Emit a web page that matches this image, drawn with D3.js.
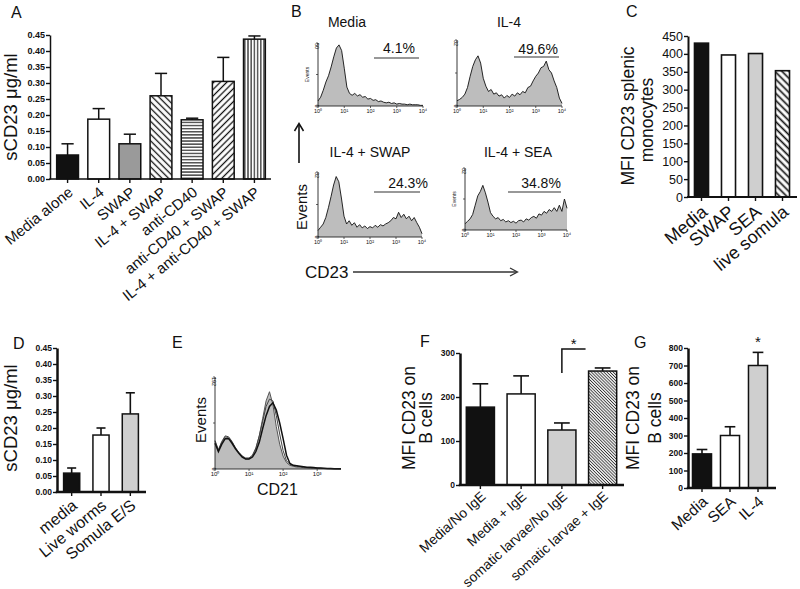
<!DOCTYPE html>
<html><head><meta charset="utf-8">
<script src="https://cdn.jsdelivr.net/npm/d3@7"></script>
<style>
body{margin:0;background:#fff}
svg{display:block}
text{font-family:"Liberation Sans",Arial,Helvetica,sans-serif;fill:#111}
</style>
</head><body>
<script>
// ---------- DATA ----------
// Panel A
const aCats = ["Media alone","IL-4","SWAP","IL-4 + SWAP","anti-CD40","anti-CD40 + SWAP","IL-4 + anti-CD40 + SWAP"];
const aMeans = [0.075,0.187,0.11,0.26,0.185,0.305,0.437];
const aSem   = [0.035,0.033,0.03,0.07,0.005,0.075,0.01];
const aTicks = [0,0.05,0.10,0.15,0.20,0.25,0.30,0.35,0.40,0.45];
// Panel C
const cCats = ["Media","SWAP","SEA","live somula"];
const cMeans = [430,397,401,353];
const cTicks = [0,50,100,150,200,250,300,350,400,450];
// Panel D
const dCats = ["media","Live worms","Somula E/S"];
const dMeans = [0.059,0.178,0.244];
const dSem   = [0.016,0.022,0.066];
const dTicks = [0,0.05,0.10,0.15,0.20,0.25,0.30,0.35,0.40,0.45];
// Panel F
const fCats = ["Media/No IgE","Media + IgE","somatic larvae/No IgE","somatic larvae + IgE"];
const fMeans = [177,207,125,259];
const fSem   = [53,41,16,7];
const fTicks = [0,100,200,300];
// Panel G
const gCats = ["Media","SEA","IL-4"];
const gMeans = [195,300,700];
const gSem   = [25,50,75];
const gTicks = [0,100,200,300,400,500,600,700,800];
// Panel B histograms (log10 fluorescence bins, fraction of axis max)
const bLogs = [0,0.1,0.2,0.3,0.4,0.5,0.6,0.7,0.8,0.9,1.0,1.1,1.2,1.3,1.4,1.5,1.6,1.7,1.8,1.9,2.0,2.1,2.2,2.3,2.4,2.5,2.6,2.7,2.8,2.9,3.0,3.1,3.2,3.3,3.4,3.5,3.6,3.7,3.8,3.9,4.0];
const bTickLabels = ["10⁰","10¹","10²","10³","10⁴"];
const bMedia = [0.08,0.14,0.25,0.38,0.48,0.62,0.78,0.92,0.97,0.88, 0.60,0.30,0.20,0.17,0.20,0.16,0.18,0.14,0.15,0.11, 0.12,0.09,0.10,0.07,0.08,0.06,0.05,0.06,0.04,0.05, 0.03,0.04,0.03,0.03,0.02,0.03,0.02,0.02,0.02,0.01, 0.01];
const bIL4 = [0.08,0.10,0.13,0.18,0.28,0.45,0.60,0.70,0.76,0.65, 0.42,0.30,0.22,0.25,0.18,0.20,0.15,0.17,0.12,0.16, 0.13,0.18,0.15,0.20,0.17,0.22,0.20,0.28,0.30,0.38, 0.45,0.50,0.58,0.60,0.68,0.55,0.50,0.38,0.28,0.12, 0.04];
const bSWAP = [0.10,0.15,0.20,0.30,0.45,0.62,0.80,0.93,0.85,0.60, 0.32,0.20,0.25,0.18,0.22,0.15,0.19,0.14,0.17,0.13, 0.16,0.14,0.18,0.15,0.19,0.17,0.20,0.22,0.25,0.30, 0.28,0.38,0.30,0.35,0.28,0.32,0.25,0.30,0.22,0.15, 0.05];
const bSEA = [0.10,0.14,0.18,0.25,0.40,0.55,0.62,0.72,0.60,0.45, 0.28,0.22,0.18,0.20,0.15,0.17,0.13,0.15,0.12,0.14, 0.11,0.15,0.16,0.13,0.18,0.16,0.20,0.22,0.19,0.26, 0.24,0.30,0.27,0.33,0.30,0.36,0.30,0.40,0.30,0.50, 0.35];
// Panel E histogram (CD21)
const eLogs = [0,0.1,0.2,0.3,0.4,0.5,0.6,0.7,0.8,0.9,1.0,1.1,1.2,1.3,1.4,1.5,1.6,1.7,1.8,1.9,2.0,2.1,2.2,2.3,2.4,2.5,2.6,2.7,2.8,2.9,3.0,3.1,3.2,3.3,3.4,3.5,3.6,3.7];
const eTickLabels = ["10⁰","10¹","10²","10³"];
const eFill  = [0.30,0.20,0.29,0.35,0.34,0.29,0.23,0.18,0.14,0.11, 0.11,0.14,0.22,0.36,0.55,0.74,0.84,0.70,0.46,0.27, 0.14,0.07,0.04,0.03,0.02,0.02,0.015,0.012,0.01,0.01, 0.008,0.006,0.005,0.004,0.003,0.003,0.002,0.002];
const eLine1 = [0.28,0.19,0.27,0.33,0.33,0.28,0.22,0.17,0.13,0.11, 0.11,0.13,0.19,0.29,0.44,0.58,0.68,0.72,0.64,0.50, 0.33,0.15,0.06,0.04,0.035,0.03,0.025,0.02,0.018,0.015, 0.012,0.01,0.008,0.006,0.005,0.004,0.003,0.002];
const eLine2 = [0.31,0.21,0.30,0.36,0.35,0.30,0.23,0.18,0.14,0.12, 0.12,0.15,0.23,0.36,0.52,0.68,0.76,0.74,0.58,0.38, 0.20,0.09,0.05,0.035,0.03,0.025,0.02,0.016,0.013,0.011, 0.009,0.007,0.006,0.005,0.004,0.003,0.002,0.002];

// ---------- DRAWING ----------
const svg = d3.select("body").append("svg").attr("width",800).attr("height",589);
const defs = svg.append("defs");
function linePattern(id,size,angle,sw,col){
  const p = defs.append("pattern").attr("id",id).attr("patternUnits","userSpaceOnUse")
    .attr("width",size).attr("height",size).attr("patternTransform",`rotate(${angle})`);
  p.append("rect").attr("width",size).attr("height",size).attr("fill","#fff");
  p.append("line").attr("x1",size/2).attr("y1",-1).attr("x2",size/2).attr("y2",size+1)
    .attr("stroke",col||"#111").attr("stroke-width",sw);
}
linePattern("hBack",4.6,-45,1.3);
linePattern("hFwd",4.6,45,1.3);
linePattern("hHor",3.1,90,1.1);
linePattern("hVer",3.2,0,1.1);
linePattern("hDense",2.2,-45,0.9,"#333");
linePattern("hC",5,-45,1.7);

function txt(x,y,s,size,opts={}){
  const t = svg.append("text").attr("x",x).attr("y",y).attr("font-size",size).text(s);
  if(opts.anchor) t.attr("text-anchor",opts.anchor);
  if(opts.rot!==undefined) t.attr("transform",`rotate(${opts.rot},${x},${y})`);
  if(opts.weight) t.attr("font-weight",opts.weight);
  return t;
}

function barPanel(o){
  const g = svg.append("g");
  const x = d3.scaleBand().domain(o.cats).range(o.xr).paddingInner(o.pad).paddingOuter(o.pad/2);
  const y = d3.scaleLinear().domain([0,o.max]).range([o.yb,o.yt]);
  const bw = x.bandwidth();
  if(o.sem){
    const eg = g.append("g");
    o.cats.forEach((c,i)=>{
      const cx = x(c)+bw/2, top = y(o.vals[i]+o.sem[i]);
      eg.append("line").attr("x1",cx).attr("x2",cx).attr("y1",y(o.vals[i])).attr("y2",top)
        .attr("stroke","#111").attr("stroke-width",o.esw||1.5);
      eg.append("line").attr("x1",cx-bw*0.28).attr("x2",cx+bw*0.28).attr("y1",top).attr("y2",top)
        .attr("stroke","#111").attr("stroke-width",o.esw||1.5);
    });
  }
  g.selectAll("rect.bar").data(o.cats).join("rect").attr("class","bar")
    .attr("x",c=>x(c)).attr("width",bw)
    .attr("y",(c,i)=>y(o.vals[i])).attr("height",(c,i)=>y(0)-y(o.vals[i]))
    .attr("fill",(c,i)=>o.fills[i]).attr("stroke","#111").attr("stroke-width",o.bsw||1.5);
  const ya = g.append("g").attr("transform",`translate(${o.ax},0)`)
    .call(d3.axisLeft(y).tickValues(o.ticks).tickFormat(o.fmt).tickSize(o.ts||4).tickSizeOuter(0).tickPadding(o.tp||1));
  ya.select(".domain").attr("stroke","#111").attr("stroke-width",o.aw);
  ya.selectAll(".tick line").attr("stroke","#111").attr("stroke-width",o.tw||1.4);
  ya.selectAll(".tick text").attr("font-size",o.tf).attr("font-weight",o.tfw||"normal")
    .attr("font-family",'"Liberation Sans",Arial,sans-serif').attr("fill","#111");
  const xa = g.append("g").attr("transform",`translate(0,${o.yb})`)
    .call(d3.axisBottom(x).tickSize(o.xts||4).tickSizeOuter(0).tickFormat(""));
  xa.select(".domain").remove();
  xa.selectAll(".tick line").attr("stroke","#111").attr("stroke-width",o.tw||1.4);
  g.append("line").attr("x1",o.ax-o.aw/2).attr("x2",o.xend).attr("y1",o.yb).attr("y2",o.yb)
    .attr("stroke","#111").attr("stroke-width",o.aw);
  g.selectAll("text.xl").data(o.cats).join("text").attr("class","xl")
    .attr("transform",c=>`translate(${x(c)+bw/2+o.ldx},${o.yb+o.ldy}) rotate(${-o.ang})`)
    .attr("text-anchor","end").attr("dy","0.35em").attr("font-size",o.lf).text(c=>c);
  return {x,y,g};
}

function hist(o){
  const g = svg.append("g");
  const x = d3.scaleLinear().domain([0,o.maxLog]).range([o.x0,o.x1]);
  const y = d3.scaleLinear().domain([0,1]).range([o.yb,o.yt]);
  o.series.forEach(s=>{
    if(s.fill){
      g.append("path").datum(s.vals)
        .attr("d",d3.area().x((d,i)=>x(o.logs[i])).y0(o.yb).y1(d=>y(d)))
        .attr("fill",s.fill);
    }
    g.append("path").datum(s.vals)
      .attr("d",d3.line().x((d,i)=>x(o.logs[i])).y(d=>y(d)))
      .attr("fill","none").attr("stroke",s.stroke).attr("stroke-width",s.sw);
  });
  g.append("line").attr("x1",o.x0).attr("x2",o.x0).attr("y1",o.yb).attr("y2",o.yt).attr("stroke","#222").attr("stroke-width",0.9);
  g.append("line").attr("x1",o.x0).attr("x2",o.x1).attr("y1",o.yb).attr("y2",o.yb).attr("stroke","#222").attr("stroke-width",0.9);
  [0,0.5,1].forEach(v=>g.append("line").attr("x1",o.x0-2).attr("x2",o.x0).attr("y1",y(v)).attr("y2",y(v)).attr("stroke","#222").attr("stroke-width",0.7));
  o.tickLabels.forEach((l,i)=>{
    g.append("line").attr("x1",x(i)).attr("x2",x(i)).attr("y1",o.yb).attr("y2",o.yb+2).attr("stroke","#222").attr("stroke-width",0.7);
    g.append("text").attr("x",x(i)).attr("y",o.yb+7).attr("text-anchor","middle").attr("font-size",o.tlf||5.5).text(l);
  });
  g.append("text").attr("transform",`translate(${o.x0-3},${o.yt}) rotate(90)`).attr("font-size",5.5).attr("text-anchor","start").text(o.maxLabel);
  g.append("text").attr("transform",`translate(${o.x0-3},${o.yb}) rotate(90)`).attr("font-size",5.5).attr("text-anchor","middle").text("0");
  if(o.smallEvents) g.append("text").attr("transform",`translate(${o.x0-9},${(o.yt+o.yb)/2}) rotate(-90)`).attr("font-size",5).attr("text-anchor","middle").text("Events");
  return {x,y,g};
}

// ---- Panel A ----
txt(11,18,"A",16);
txt(17,107,"sCD23 μg/ml",18.5,{anchor:"middle",rot:-90});
barPanel({cats:aCats,vals:aMeans,sem:aSem,fills:["#111","#fff","#9a9a9a","url(#hBack)","url(#hHor)","url(#hFwd)","url(#hVer)"],
  xr:[52,270],pad:0.3,max:0.45,yb:179,yt:35,ax:50,xend:271,aw:1.5,ticks:aTicks,fmt:d3.format(".2f"),
  tf:9,tfw:"bold",ldx:3,ldy:11,ang:39,lf:15,esw:1.5});

// ---- Panel B ----
txt(291,17,"B",16);
const bSer = v=>[{vals:v,fill:"#bdbdbd",stroke:"#111",sw:0.9}];
hist({x0:318,x1:423,yt:43,yb:106,maxLog:4,logs:bLogs,series:bSer(bMedia),tickLabels:bTickLabels,maxLabel:"50",smallEvents:true});
hist({x0:457,x1:562,yt:40,yb:106,maxLog:4,logs:bLogs,series:bSer(bIL4),tickLabels:bTickLabels,maxLabel:"32"});
hist({x0:318,x1:422,yt:172,yb:237,maxLog:4,logs:bLogs,series:bSer(bSWAP),tickLabels:bTickLabels,maxLabel:"32"});
hist({x0:465,x1:567,yt:168,yb:230,maxLog:4,logs:bLogs,series:bSer(bSEA),tickLabels:bTickLabels,maxLabel:"32",smallEvents:true});
txt(347,27,"Media",14,{anchor:"middle"});
txt(509,27,"IL-4",14,{anchor:"middle"});
txt(370,157,"IL-4 + SWAP",14,{anchor:"middle"});
txt(518,157,"IL-4 + SEA",14,{anchor:"middle"});
const pctLines = [[374,419,58,"4.1%",399,53],[514,559,57,"49.6%",538,54],[374,420,192,"24.3%",408,188],[508,561,192,"34.8%",541,188]];
pctLines.forEach(p=>{
  svg.append("line").attr("x1",p[0]).attr("x2",p[1]).attr("y1",p[2]).attr("y2",p[2]).attr("stroke","#333").attr("stroke-width",1.1);
  txt(p[4],p[5],p[3],14,{anchor:"middle"});
});
txt(307,207,"Events",15,{anchor:"middle",rot:-90});
txt(305,278,"CD23",17);
svg.append("line").attr("x1",299).attr("x2",299).attr("y1",163).attr("y2",124).attr("stroke","#111").attr("stroke-width",1.6);
svg.append("path").attr("d","M294.5,131 L299,123.5 L303.5,131").attr("fill","none").attr("stroke","#111").attr("stroke-width",1.5);
svg.append("line").attr("x1",353).attr("x2",517).attr("y1",272).attr("y2",272).attr("stroke","#333").attr("stroke-width",1.4);
svg.append("path").attr("d","M510,268 L517.5,272 L510,276").attr("fill","none").attr("stroke","#333").attr("stroke-width",1.3);

// ---- Panel C ----
txt(626,17,"C",16);
txt(634,116,"MFI CD23 splenic",17.5,{anchor:"middle",rot:-90});
txt(653,120,"monocytes",17.5,{anchor:"middle",rot:-90});
barPanel({cats:cCats,vals:cMeans,fills:["#111","#fff","#cfcfcf","url(#hC)"],
  xr:[688,796],pad:0.48,max:450,yb:197,yt:36,ax:688,xend:797,aw:2,ticks:cTicks,fmt:d3.format("d"),
  tf:12.5,ts:4,tp:1,ldx:3,ldy:12,ang:40,lf:18,bsw:1.6});

// ---- Panel D ----
txt(13,349,"D",16);
txt(17,418,"sCD23 μg/ml",18.5,{anchor:"middle",rot:-90});
barPanel({cats:dCats,vals:dMeans,sem:dSem,fills:["#111","#fff","#cfcfcf"],
  xr:[57,145],pad:0.45,max:0.45,yb:492,yt:348,ax:57,xend:146,aw:2.5,ticks:dTicks,fmt:d3.format(".2f"),
  tf:8.5,tfw:"bold",ts:4,ldx:3,ldy:11,ang:39,lf:16,esw:1.6});

// ---- Panel E ----
txt(172,348,"E",16);
txt(206,420,"Events",15,{anchor:"middle",rot:-90});
txt(257,495,"CD21",16);
hist({x0:215,x1:341,yt:377,yb:469,maxLog:3.7,logs:eLogs,tickLabels:eTickLabels,maxLabel:"192",tlf:6,
  series:[{vals:eFill,fill:"#bdbdbd",stroke:"#555",sw:1},{vals:eLine2,stroke:"#444",sw:1},{vals:eLine1,stroke:"#111",sw:1.5}]});

// ---- Panel F ----
txt(420,347,"F",16);
txt(415,418,"MFI CD23 on",17.5,{anchor:"middle",rot:-90});
txt(432,418,"B cells",17.5,{anchor:"middle",rot:-90});
const F = barPanel({cats:fCats,vals:fMeans,sem:fSem,fills:["#111","#fff","#cfcfcf","url(#hDense)"],
  xr:[460,623],pad:0.31,max:300,yb:485,yt:353,ax:460,xend:624,aw:2.5,ticks:fTicks,fmt:d3.format("d"),
  tf:8.5,tfw:"bold",ts:4,ldx:3,ldy:9,ang:42,lf:13.8,esw:1.6});
{
  const x3 = F.x(fCats[2])+F.x.bandwidth()/2, x4 = F.x(fCats[3])-3;
  svg.append("path").attr("d",`M${x3},373 L${x3},349 L${x4},349`).attr("fill","none").attr("stroke","#111").attr("stroke-width",1.5);
  txt((x3+x4)/2,349,"*",15,{anchor:"middle"});
}

// ---- Panel G ----
txt(634,348,"G",16);
txt(639,418,"MFI CD23 on",17.5,{anchor:"middle",rot:-90});
txt(661,418,"B cells",17.5,{anchor:"middle",rot:-90});
const G = barPanel({cats:gCats,vals:gMeans,sem:gSem,fills:["#111","#fff","#cfcfcf"],
  xr:[688,772],pad:0.32,max:800,yb:488,yt:348,ax:688,xend:776,aw:2.5,ticks:gTicks,fmt:d3.format("d"),
  tf:8.5,tfw:"bold",ts:4,ldx:3,ldy:11,ang:42,lf:15.5,esw:1.6});
txt(G.x("IL-4")+G.x.bandwidth()/2,347,"*",15,{anchor:"middle"});
</script>
</body></html>
